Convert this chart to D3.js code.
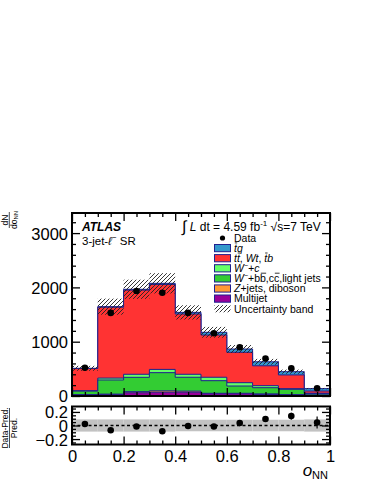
<!DOCTYPE html>
<html>
<head>
<meta charset="utf-8">
<script src="https://cdn.jsdelivr.net/npm/d3@7"></script>
<style>
  body { margin: 0; background: #fff; }
  svg { display: block; font-family: "Liberation Sans", Arial, sans-serif; }
</style>
</head>
<body>
<svg id="chart" width="374" height="484"></svg>
<script>
// Bin edges of o_NN (10 bins of 0.1)
const binEdges = [0, 0.1, 0.2, 0.3, 0.4, 0.5, 0.6, 0.7, 0.8, 0.9, 1.0];

// Stacked predictions per bin (events), bottom to top
const multijet = [20, 25, 60, 70, 70, 40, 40, 30, 20, 15];
const zjetsDiboson = [5, 10, 20, 25, 20, 10, 10, 8, 5, 5];
const wHeavyLight = [65, 260, 264, 335, 255, 232, 134, 115, 98, 26];
const wCharm = [8, 35, 56, 60, 55, 63, 61, 37, 12, 6];
const ttbarWtTb = [407, 1305, 1550, 1565, 1110, 778, 560, 366, 253, 40];
const tqSignal = [5, 10, 15, 20, 30, 50, 60, 74, 60, 44];

// Observed data
const dataCounts = [521, 1530, 1934, 1900, 1530, 1155, 897, 690, 510, 142];

// Relative uncertainty of the total prediction
const relUnc = [0.09, 0.09, 0.09, 0.09, 0.085, 0.085, 0.085, 0.085, 0.085, 0.09];

const yTickLabels = [0, 1000, 2000, 3000];
const ratioTickLabels = [-0.2, 0, 0.2];
const xTickLabels = [0, 0.2, 0.4, 0.6, 0.8, 1];

const layers = [
  { name: "Multijet", values: multijet, color: "#990099" },
  { name: "Z+jets, diboson", values: zjetsDiboson, color: "#ff9933" },
  { name: "W+bb,cc,light", values: wHeavyLight, color: "#33cc33" },
  { name: "W+c", values: wCharm, color: "#66ff66" },
  { name: "tt,Wt,tb", values: ttbarWtTb, color: "#ff3333" },
  { name: "tq", values: tqSignal, color: "#3399cc" }
];

// Chart attributes
const frame = { left: 72, right: 330, mainTop: 213, mainBottom: 396, ratioTop: 406.5, ratioBottom: 444.5 };
const outline = "#1f1f8f";

const svg = d3.select("#chart");

const x = d3.scaleLinear().domain([0, 1]).range([frame.left, frame.right]);
const y = d3.scaleLinear().domain([0, 3370]).range([frame.mainBottom, frame.mainTop]);
const yr = d3.scaleLinear().domain([-0.28, 0.28]).range([frame.ratioBottom, frame.ratioTop]);

const nBins = dataCounts.length;
const bins = d3.range(nBins).map(i => ({ x0: binEdges[i], x1: binEdges[i + 1] }));

// cumulative stack
const cumulative = [];
layers.forEach((l, k) => {
  cumulative.push(l.values.map((v, i) => v + (k > 0 ? cumulative[k - 1][i] : 0)));
});
const total = cumulative[cumulative.length - 1];

// hatch pattern
const defs = svg.append("defs");
defs.append("pattern")
  .attr("id", "hatch")
  .attr("patternUnits", "userSpaceOnUse")
  .attr("width", 4).attr("height", 4)
  .append("path")
  .attr("d", "M-1,1 l2,-2 M0,4 l4,-4 M3,5 l2,-2")
  .attr("stroke", "#222").attr("stroke-width", 0.9);

defs.append("clipPath").attr("id", "mainClip")
  .append("rect")
  .attr("x", frame.left).attr("y", frame.mainTop)
  .attr("width", frame.right - frame.left).attr("height", frame.mainBottom - frame.mainTop);

// step path helper
function stepArea(vals) {
  let d = `M${x(0)},${y(0)}`;
  vals.forEach((v, i) => {
    d += `L${x(bins[i].x0)},${y(v)}L${x(bins[i].x1)},${y(v)}`;
  });
  d += `L${x(1)},${y(0)}Z`;
  return d;
}

const main = svg.append("g").attr("clip-path", "url(#mainClip)");

// Draw the stack from top-most cumulative down
for (let k = layers.length - 1; k >= 0; k--) {
  main.append("path")
    .attr("d", stepArea(cumulative[k]))
    .attr("fill", layers[k].color)
    .attr("stroke", outline)
    .attr("stroke-width", 1);
}

// Uncertainty band
main.selectAll("rect.unc")
  .data(bins)
  .enter()
  .append("rect")
  .attr("class", "unc")
  .attr("x", d => x(d.x0))
  .attr("width", d => x(d.x1) - x(d.x0))
  .attr("y", (d, i) => y(total[i] * (1 + relUnc[i])))
  .attr("height", (d, i) => y(total[i] * (1 - relUnc[i])) - y(total[i] * (1 + relUnc[i])))
  .attr("fill", "url(#hatch)");

// Data points
const centers = bins.map(b => (b.x0 + b.x1) / 2);
main.selectAll("line.err")
  .data(dataCounts)
  .enter()
  .append("line")
  .attr("x1", (d, i) => x(centers[i])).attr("x2", (d, i) => x(centers[i]))
  .attr("y1", d => y(d + Math.sqrt(d))).attr("y2", d => y(d - Math.sqrt(d)))
  .attr("stroke", "#000").attr("stroke-width", 1.2);
main.selectAll("circle.data")
  .data(dataCounts)
  .enter()
  .append("circle")
  .attr("cx", (d, i) => x(centers[i]))
  .attr("cy", d => y(d))
  .attr("r", 3.3)
  .attr("fill", "#000");

// Axes (ticks pointing inward)
function tickAxis(axisFn, scale, values, size, transform, fmt) {
  const a = axisFn(scale).tickValues(values).tickSize(size).tickPadding(4);
  a.tickFormat(fmt || "");
  const g = svg.append("g").attr("transform", transform).call(a);
  g.select(".domain").remove();
  g.selectAll("line").attr("stroke", "#000").attr("stroke-width", 1.3);
  return g;
}

const yMinor = d3.range(0, 3370, 200).filter(v => v % 1000 !== 0);
const xMinor = d3.range(0, 1.0001, 0.05).filter(v => Math.abs(v * 5 - Math.round(v * 5)) > 1e-6);
const xMajor = d3.range(0, 1.0001, 0.2);

const yAxisG = tickAxis(d3.axisLeft, y, yTickLabels, -8, `translate(${frame.left},0)`, d3.format("d"));
tickAxis(d3.axisLeft, y, yMinor, -4, `translate(${frame.left},0)`);
tickAxis(d3.axisRight, y, yTickLabels, -8, `translate(${frame.right},0)`);
tickAxis(d3.axisRight, y, yMinor, -4, `translate(${frame.right},0)`);
tickAxis(d3.axisTop, x, xMajor, -8, `translate(0,${frame.mainTop})`);
tickAxis(d3.axisTop, x, xMinor, -4, `translate(0,${frame.mainTop})`);
tickAxis(d3.axisBottom, x, xMajor, -8, `translate(0,${frame.mainBottom})`);
tickAxis(d3.axisBottom, x, xMinor, -4, `translate(0,${frame.mainBottom})`);
yAxisG.selectAll("text")
  .attr("font-size", 16.5)
  .attr("font-family", "Liberation Sans, Arial, sans-serif")
  .attr("dy", "0.36em");

svg.append("rect")
  .attr("x", frame.left).attr("y", frame.mainTop)
  .attr("width", frame.right - frame.left).attr("height", frame.mainBottom - frame.mainTop)
  .attr("fill", "none").attr("stroke", "#000").attr("stroke-width", 2);

// ---- Ratio panel ----
const ratio = dataCounts.map((d, i) => d / total[i] - 1);
const ratioErr = dataCounts.map((d, i) => Math.sqrt(d) / total[i]);

const rg = svg.append("g");
rg.selectAll("rect.band")
  .data(bins)
  .enter()
  .append("rect")
  .attr("x", d => x(d.x0))
  .attr("width", d => x(d.x1) - x(d.x0))
  .attr("y", (d, i) => yr(relUnc[i]))
  .attr("height", (d, i) => yr(-relUnc[i]) - yr(relUnc[i]))
  .attr("fill", "#c2c2c2");

rg.append("line")
  .attr("x1", frame.left).attr("x2", frame.right)
  .attr("y1", yr(0)).attr("y2", yr(0))
  .attr("stroke", "#000").attr("stroke-width", 1.4)
  .attr("stroke-dasharray", "3,2.5");

rg.selectAll("line.rerr")
  .data(ratio)
  .enter()
  .append("line")
  .attr("x1", (d, i) => x(centers[i])).attr("x2", (d, i) => x(centers[i]))
  .attr("y1", (d, i) => yr(d + ratioErr[i])).attr("y2", (d, i) => yr(d - ratioErr[i]))
  .attr("stroke", "#000").attr("stroke-width", 1.2);
rg.selectAll("circle.r")
  .data(ratio)
  .enter()
  .append("circle")
  .attr("cx", (d, i) => x(centers[i]))
  .attr("cy", d => yr(d))
  .attr("r", 3.3)
  .attr("fill", "#000");

const rMinor = [-0.25, -0.15, -0.1, -0.05, 0.05, 0.1, 0.15, 0.25];
const rAxisG = tickAxis(d3.axisLeft, yr, ratioTickLabels, -8, `translate(${frame.left},0)`, d => d === 0 ? "0" : d3.format(".1f")(d));
tickAxis(d3.axisLeft, yr, rMinor, -4, `translate(${frame.left},0)`);
tickAxis(d3.axisRight, yr, ratioTickLabels, -8, `translate(${frame.right},0)`);
tickAxis(d3.axisRight, yr, rMinor, -4, `translate(${frame.right},0)`);
tickAxis(d3.axisTop, x, xMajor, -8, `translate(0,${frame.ratioTop})`);
tickAxis(d3.axisTop, x, xMinor, -4, `translate(0,${frame.ratioTop})`);
const xAxisG = tickAxis(d3.axisBottom, x, xTickLabels, -8, `translate(0,${frame.ratioBottom})`, d => d === 0 || d === 1 ? String(d) : d3.format(".1f")(d));
tickAxis(d3.axisBottom, x, xMinor, -4, `translate(0,${frame.ratioBottom})`);
rAxisG.selectAll("text")
  .attr("font-size", 16.5)
  .attr("font-family", "Liberation Sans, Arial, sans-serif")
  .attr("dy", "0.36em");
xAxisG.selectAll("text")
  .attr("font-size", 16.5)
  .attr("font-family", "Liberation Sans, Arial, sans-serif")
  .attr("y", 5).attr("dy", "0.75em");

svg.append("rect")
  .attr("x", frame.left).attr("y", frame.ratioTop)
  .attr("width", frame.right - frame.left).attr("height", frame.ratioBottom - frame.ratioTop)
  .attr("fill", "none").attr("stroke", "#000").attr("stroke-width", 2);

// ---- Axis titles ----
const xt = svg.append("text").attr("x", 328).attr("y", 476).attr("text-anchor", "end");
xt.append("tspan").attr("font-size", 17).attr("font-style", "italic").text("o");
xt.append("tspan").attr("font-size", 11).attr("dy", 3).text("NN");

const yt = svg.append("g").attr("transform", "translate(0,220) rotate(-90)");
yt.append("text").attr("x", 0).attr("y", 7.5).attr("text-anchor", "middle").attr("font-size", 8.5).text("dN");
yt.append("line").attr("x1", -8).attr("x2", 8).attr("y1", 9.3).attr("y2", 9.3).attr("stroke", "#000").attr("stroke-width", 0.7);
const ytd = yt.append("text").attr("x", 0).attr("y", 16.5).attr("text-anchor", "middle").attr("font-size", 8.5);
ytd.append("tspan").text("do");
ytd.append("tspan").attr("font-size", 6).attr("dy", 1.5).text("NN");

const rt = svg.append("g").attr("transform", "translate(0,428) rotate(-90)");
rt.append("text").attr("x", 0).attr("y", 8).attr("text-anchor", "middle").attr("font-size", 8.5).text("Data-Pred.");
rt.append("line").attr("x1", -20).attr("x2", 20).attr("y1", 9.5).attr("y2", 9.5).attr("stroke", "#000").attr("stroke-width", 0.7);
rt.append("text").attr("x", 0).attr("y", 16.5).attr("text-anchor", "middle").attr("font-size", 8.5).text("Pred.");

// ---- Labels inside main panel ----
svg.append("text").attr("x", 82).attr("y", 231).attr("font-size", 12)
  .attr("font-weight", "bold").attr("font-style", "italic").text("ATLAS");
const sr = svg.append("text").attr("x", 82).attr("y", 245).attr("font-size", 11.5);
sr.append("tspan").text("3-jet-");
sr.append("tspan").attr("font-style", "italic").text("ℓ");
sr.append("tspan").attr("font-size", 8).attr("dy", -5).text("−");
sr.append("tspan").attr("dy", 5).text(" SR");

const lumi = svg.append("text").attr("x", 182).attr("y", 231).attr("font-size", 12);
lumi.append("tspan").attr("font-size", 16).attr("dy", 1).text("∫");
lumi.append("tspan").attr("dy", -1).attr("font-style", "italic").text(" L");
lumi.append("tspan").text(" dt = 4.59 fb");
lumi.append("tspan").attr("font-size", 8).attr("dy", -5).text("-1");
lumi.append("tspan").attr("dy", 5).text("  √s=7 TeV");

// ---- Legend ----
// part flags: i = italic, o = overline, s = superscript
const legendItems = [
  { type: "data", parts: [["Data", ""]] },
  { type: "box", color: "#3399cc", parts: [["t", "io"], ["q", "i"]] },
  { type: "box", color: "#ff3333", parts: [["t", "i"], ["t", "io"], [", ", ""], ["Wt", "i"], [", ", ""], ["t", "io"], ["b", "i"]] },
  { type: "box", color: "#66ff66", parts: [["W", "i"], ["−", "s"], ["+c", "i"]] },
  { type: "box", color: "#33cc33", parts: [["W", "i"], ["−", "s"], ["+b", ""], ["b", "o"], [",c", ""], ["c", "o"], [",light jets", ""]] },
  { type: "box", color: "#ff9933", parts: [["Z", "i"], ["+jets, diboson", ""]] },
  { type: "box", color: "#990099", parts: [["Multijet", ""]] },
  { type: "hatch", parts: [["Uncertainty band", ""]] }
];

const lg = svg.append("g");
legendItems.forEach((item, i) => {
  const cy = 238 + i * 10.1;
  if (item.type === "data") {
    lg.append("circle").attr("cx", 222.5).attr("cy", cy).attr("r", 2.6).attr("fill", "#000");
  } else if (item.type === "box") {
    lg.append("rect").attr("x", 214.5).attr("y", cy - 3.6).attr("width", 16).attr("height", 7.2)
      .attr("fill", item.color).attr("stroke", outline).attr("stroke-width", 1);
  } else {
    lg.append("rect").attr("x", 214.5).attr("y", cy - 3.6).attr("width", 16).attr("height", 7.2)
      .attr("fill", "url(#hatch)");
  }
  const baseline = cy + 3.8;
  const t = lg.append("text").attr("x", 234).attr("y", baseline).attr("font-size", 10.5);
  let shifted = false;
  let charIdx = 0;
  const overIdx = [];
  item.parts.forEach(([s, st]) => {
    const ts = t.append("tspan").text(s);
    if (st.includes("i")) ts.attr("font-style", "italic");
    if (st.includes("o")) for (let c = 0; c < s.length; c++) overIdx.push(charIdx + c);
    if (st.includes("s")) { ts.attr("font-size", 7).attr("dy", -4); shifted = true; }
    else if (shifted) { ts.attr("dy", 4); shifted = false; }
    charIdx += s.length;
  });
  // overline bars drawn from the glyph extents
  const node = t.node();
  overIdx.forEach(ci => {
    const r = node.getExtentOfChar(ci);
    lg.append("line")
      .attr("x1", r.x + 0.8).attr("x2", r.x + r.width + 0.3)
      .attr("y1", baseline - 9).attr("y2", baseline - 9)
      .attr("stroke", "#000").attr("stroke-width", 0.8);
  });
});
</script>
</body>
</html>
